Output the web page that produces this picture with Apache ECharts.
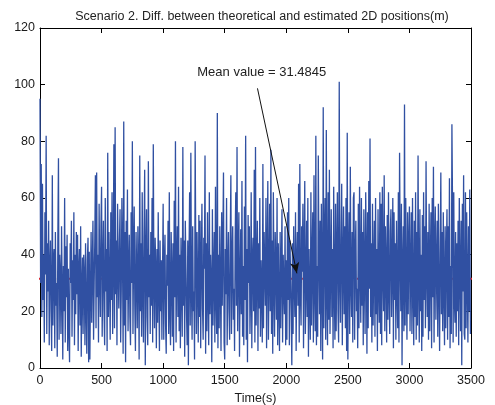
<!DOCTYPE html>
<html>
<head>
<meta charset="utf-8">
<script src="https://cdn.jsdelivr.net/npm/echarts@6.0.0/dist/echarts.min.js"></script>
<style>html,body{margin:0;padding:0;background:#fff;}#chart{width:495px;height:405px;}</style>
</head>
<body>
<div id="chart"></div>
<script>
// ---- data ----
const titleText = 'Scenario 2. Diff. between theoretical and estimated 2D positions(m)';
const xAxisName = 'Time(s)';
const xTicks = [0, 500, 1000, 1500, 2000, 2500, 3000, 3500];
const yTicks = [0, 20, 40, 60, 80, 100, 120];
const sampleStep = 5; // seconds between plotted samples
const meanValue = 31.4845;
const meanLabel = 'Mean value = 31.4845';
const meanSpan = [-25, 3525];
const arrowFrom = [1766, 98.7];
const arrowTo = [2086, 33.4];
const labelAt = [1801, 104.2];
const errorValues = [
95,30,72,18,65,24,40,9,55,33,
82,12,44,27,52,8,36,45,20,6,
68,15,38,42,7,48,22,30,4,46,
74,10,40,33,12,50,28,3,36,20,
60,9,43,25,47,6,35,14,2,44,
30,52,11,38,24,55,8,40,19,48,
26,47,6,35,42,15,50,4,28,39,
12,40,33,8,44,22,5,38,46,2,
41,3,27,48,16,36,52,10,30,45,
68,14,69,25,40,9,58,33,18,50,
64,11,35,52,20,8,60,27,42,6,
76,18,48,30,10,55,24,62,12,38,
79,14,85,26,45,8,58,36,21,44,
56,9,28,60,40,5,87,15,48,2,
52,24,63,13,34,47,18,8,55,30,
80,12,40,57,22,6,48,35,14,50,
35,3,75,20,44,11,62,28,9,46,
70,1,38,56,18,8,73,25,40,12,
48,22,60,9,79,30,14,46,35,7,
42,16,55,28,6,45,20,38,10,33,
58,10,36,47,15,5,40,29,52,12,
62,20,8,48,33,11,44,6,59,25,
80,9,36,50,18,64,13,40,7,46,
30,11,78,22,45,4,52,35,19,8,
45,1,38,62,15,76,28,10,50,20,
27,3,80,42,12,48,30,9,54,18,
52,7,38,58,21,10,46,35,75,5,
44,13,55,26,8,62,19,40,30,2,
56,15,33,48,9,64,25,12,90,7,
40,14,50,30,6,55,22,45,69,9,
3,42,26,60,8,35,48,20,10,45,
68,12,38,50,17,28,6,46,62,22,
78,13,40,55,4,30,49,19,66,11,
36,8,57,24,82,10,42,2,54,30,
50,12,26,62,7,38,46,20,70,9,
78,15,34,52,6,44,21,60,11,38,
28,9,72,14,48,35,22,60,7,40,
66,10,32,58,20,77,12,45,5,62,
30,11,48,36,17,60,8,44,24,6,
48,14,36,56,9,40,28,19,50,8,
38,10,55,24,60,8,45,32,20,1,
44,12,50,30,18,55,6,38,48,22,
65,9,72,26,15,50,34,58,7,40,
66,12,30,52,18,60,4,42,25,10,
62,15,38,55,9,68,28,13,82,8,
36,11,75,40,19,52,6,58,30,3,
92,14,45,60,10,84,26,8,62,17,
70,12,35,56,18,42,7,64,28,10,
58,13,40,62,20,9,101,32,16,45,
65,8,36,57,19,50,14,60,6,83,
3,38,55,12,71,30,18,48,9,60,
62,10,40,52,20,28,7,58,14,64,
35,16,60,22,48,8,56,34,12,62,
40,5,55,14,66,28,81,18,44,9,
58,15,36,52,11,60,19,42,6,56,
30,16,62,12,58,8,64,34,20,68,
13,50,38,9,54,17,62,27,12,48,
56,18,35,60,7,55,24,44,10,52,
28,14,62,9,76,40,20,58,1,36,
50,13,93,15,60,30,10,55,19,44,
57,13,35,55,12,60,28,8,52,18,
62,10,48,15,75,30,9,56,20,40,
6,54,11,62,24,50,14,73,34,18,
48,10,58,13,38,55,7,60,25,71,
9,44,57,17,36,52,11,58,30,6,
40,69,19,48,13,55,28,8,50,14,
40,56,10,50,18,67,7,36,12,86,
58,9,62,24,16,48,11,44,20,52,
8,60,34,13,52,1,58,27,68,12,
10,62,14,55,30,9,50,20,63,12
];

// ---- chart ----
const FONT = '"Liberation Sans", Arial, Helvetica, sans-serif';
const lineData = errorValues.map((v, i) => [i * sampleStep, v]);
const meanData = meanSpan.map(x => [x, meanValue]);
const xMin = xTicks[0], xMax = xTicks[xTicks.length - 1];
const yMin = yTicks[0], yMax = yTicks[yTicks.length - 1];
const xInt = xTicks[1] - xTicks[0], yInt = yTicks[1] - yTicks[0];

const axisLine = { show: true, onZero: false, lineStyle: { color: '#000', width: 1 } };
const axisTick = { show: true, inside: true, length: 5, lineStyle: { color: '#000', width: 1 } };
const label = { color: '#1a1a1a', fontSize: 12.5, fontFamily: FONT, formatter: v => String(v) };

const chart = echarts.init(document.getElementById('chart'), null, { renderer: 'canvas' });
chart.setOption({
  animation: false,
  backgroundColor: '#fff',
  title: {
    text: titleText, left: 257, top: 5, textAlign: 'center',
    textStyle: { fontSize: 12.5, fontWeight: 'normal', color: '#222', fontFamily: FONT }
  },
  grid: { left: 40, right: 24, top: 28, bottom: 37, containLabel: false, outerBoundsMode: 'none' },
  xAxis: [
    { type: 'value', position: 'bottom', min: xMin, max: xMax, interval: xInt,
      axisLine, axisTick, splitLine: { show: false },
      axisLabel: Object.assign({ margin: 6 }, label),
      name: xAxisName, nameLocation: 'middle', nameGap: 19,
      nameTextStyle: { color: '#1a1a1a', fontSize: 12.5, fontFamily: FONT } },
    { type: 'value', position: 'top', min: xMin, max: xMax, interval: xInt,
      axisLine, axisTick, splitLine: { show: false }, axisLabel: { show: false } }
  ],
  yAxis: [
    { type: 'value', position: 'left', min: yMin, max: yMax, interval: yInt,
      axisLine, axisTick, splitLine: { show: false },
      axisLabel: Object.assign({ margin: 5 }, label) },
    { type: 'value', position: 'right', min: yMin, max: yMax, interval: yInt,
      axisLine, axisTick, splitLine: { show: false }, axisLabel: { show: false } }
  ],
  series: [
    { type: 'line', data: meanData, xAxisIndex: 0, yAxisIndex: 0, z: 1, clip: false,
      symbol: 'none', silent: true,
      lineStyle: { color: '#e3262a', width: 2, type: [6, 4] } },
    { type: 'line', data: lineData, xAxisIndex: 0, yAxisIndex: 0, z: 2,
      symbol: 'none', silent: true, sampling: null,
      lineStyle: { color: '#3050a2', width: 1.3 } },
    { type: 'line', data: [], xAxisIndex: 0, yAxisIndex: 0, z: 5, silent: true, clip: false,
      markLine: {
        silent: true, animation: false,
        symbol: ['none', 'arrow'], symbolSize: [7, 11],
        lineStyle: { color: '#111', width: 1, type: 'solid' },
        label: { show: false },
        data: [[ { coord: arrowFrom }, { coord: arrowTo } ]]
      },
      markPoint: {
        silent: true, animation: false, symbol: 'circle', symbolSize: 0,
        label: { show: true, position: 'inside', formatter: meanLabel,
                 color: '#222', fontSize: 13, fontFamily: FONT },
        data: [ { coord: labelAt } ]
      }
    }
  ]
});
</script>
</body>
</html>
